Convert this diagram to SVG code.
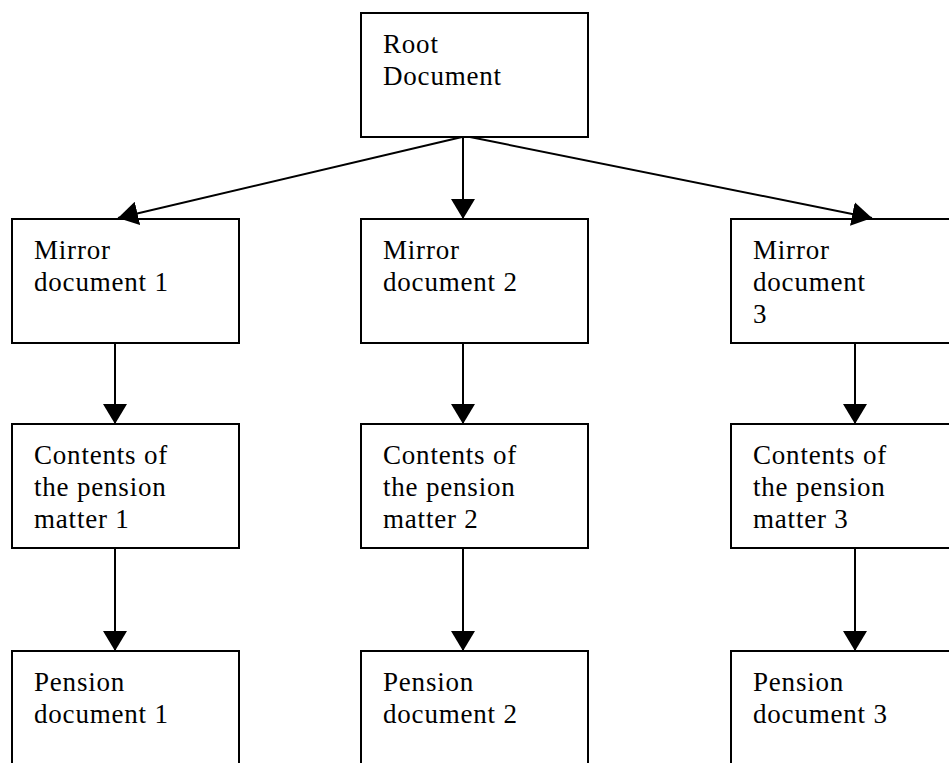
<svg xmlns="http://www.w3.org/2000/svg" width="949" height="763" viewBox="0 0 949 763">
<defs>
<style>
.box{fill:#fff;stroke:#000;stroke-width:2}
.lbl{font-family:"Liberation Serif","Times New Roman",serif;font-size:27px;letter-spacing:0.8px;fill:#000}
.edge{stroke:#000;stroke-width:2;fill:none;marker-end:url(#ah)}
</style>
<marker id="ah" viewBox="0 0 20 24" refX="20" refY="12" markerWidth="20" markerHeight="24" markerUnits="userSpaceOnUse" orient="auto">
<path d="M0,0 L20,12 L0,24 z" fill="#000"/>
</marker>
</defs>
<rect width="949" height="763" fill="#fff"/>
<g id="root"><rect class="box" x="361" y="13" width="227" height="124"/><text class="lbl" x="383" y="53">Root</text><text class="lbl" x="383" y="85">Document</text></g>
<g id="mirror1"><rect class="box" x="12" y="219" width="227" height="124"/><text class="lbl" x="34" y="259">Mirror</text><text class="lbl" x="34" y="291">document 1</text></g>
<g id="mirror2"><rect class="box" x="361" y="219" width="227" height="124"/><text class="lbl" x="383" y="259">Mirror</text><text class="lbl" x="383" y="291">document 2</text></g>
<g id="mirror3"><rect class="box" x="731" y="219" width="227" height="124"/><text class="lbl" x="753" y="259">Mirror</text><text class="lbl" x="753" y="291">document</text><text class="lbl" x="753" y="323">3</text></g>
<g id="contents1"><rect class="box" x="12" y="424" width="227" height="124"/><text class="lbl" x="34" y="464">Contents of</text><text class="lbl" x="34" y="496">the pension</text><text class="lbl" x="34" y="528">matter 1</text></g>
<g id="contents2"><rect class="box" x="361" y="424" width="227" height="124"/><text class="lbl" x="383" y="464">Contents of</text><text class="lbl" x="383" y="496">the pension</text><text class="lbl" x="383" y="528">matter 2</text></g>
<g id="contents3"><rect class="box" x="731" y="424" width="227" height="124"/><text class="lbl" x="753" y="464">Contents of</text><text class="lbl" x="753" y="496">the pension</text><text class="lbl" x="753" y="528">matter 3</text></g>
<g id="pension1"><rect class="box" x="12" y="651" width="227" height="124"/><text class="lbl" x="34" y="691">Pension</text><text class="lbl" x="34" y="723">document 1</text></g>
<g id="pension2"><rect class="box" x="361" y="651" width="227" height="124"/><text class="lbl" x="383" y="691">Pension</text><text class="lbl" x="383" y="723">document 2</text></g>
<g id="pension3"><rect class="box" x="731" y="651" width="227" height="124"/><text class="lbl" x="753" y="691">Pension</text><text class="lbl" x="753" y="723">document 3</text></g>
<g id="connectors">
<path class="edge" d="M462,137 L118,218"/>
<path class="edge" d="M463,137 L463,219"/>
<path class="edge" d="M470,137 L872,218"/>
<path class="edge" d="M115,343 L115,424"/>
<path class="edge" d="M463,343 L463,424"/>
<path class="edge" d="M855,343 L855,424"/>
<path class="edge" d="M115,548 L115,651"/>
<path class="edge" d="M463,548 L463,651"/>
<path class="edge" d="M855,548 L855,651"/>
</g>
</svg>
